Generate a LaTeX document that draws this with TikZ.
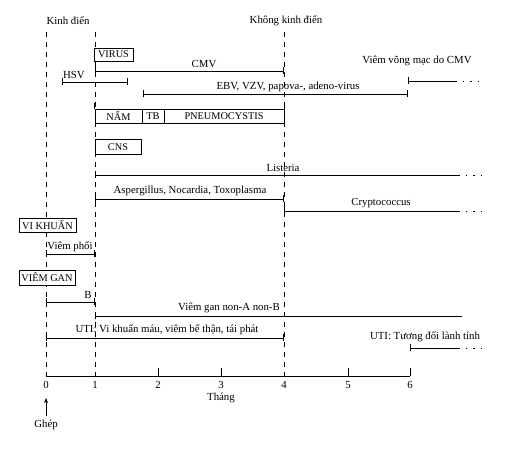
\documentclass[tikz,border=0pt]{standalone}
\usepackage{fontspec}
\setmainfont{Liberation Serif}
\usetikzlibrary{arrows.meta}
\begin{document}
\begin{tikzpicture}[x=1pt,y=-1pt,
  lbl/.style={font=\fontsize{10.8}{12}\selectfont, inner sep=0pt},
  vdash/.style={line width=0.9pt, dash pattern=on 5pt off 5pt},
  rng/.style={line width=0.7pt, {Bar[width=7pt]}-{Bar[width=7pt]}},
  rngL/.style={line width=0.7pt, {Bar[width=7pt]}-},
  cont/.style={line width=0.7pt, dash pattern=on 1.5pt off 6pt},
  catbox/.style={draw, fill=white, line width=0.8pt, font=\fontsize{10.3}{12}\selectfont, inner sep=0pt},
  axis/.style={line width=0.8pt}
]
\useasboundingbox (0,0) rectangle (515,454);
% headers
\node[lbl] (hk) at (68,21) {Kinh điển};
\node[lbl] (hnk) at (286,21) {Không kinh điển};
% vertical dashed lines
\coordinate (v0t) at (46,32);  \coordinate (v0b) at (46,376);
\coordinate (v1t) at (95,32);  \coordinate (v1b) at (95,376);
\coordinate (v4t) at (284,32); \coordinate (v4b) at (284,376);
\draw[vdash] (v0t) -- (v0b);
\draw[vdash] (v1t) -- (v1b);
\draw[vdash] (v4t) -- (v4b);
% VIRUS
\node[catbox, minimum width=39pt, minimum height=13pt] (virus) at (113.5,54.5) {VIRUS};
\coordinate (cmvA) at (95,71); \coordinate (cmvB) at (284,71);
\draw[rng] (cmvA) -- (cmvB);
\node[lbl] (cmv) at (204,64) {CMV};
\coordinate (hsvA) at (62,82); \coordinate (hsvB) at (128,82);
\draw[rng] (hsvA) -- (hsvB);
\node[lbl] (hsv) at (74,75) {HSV};
\coordinate (ebvA) at (143,94); \coordinate (ebvB) at (408,94);
\draw[rng] (ebvA) -- (ebvB);
\node[lbl] (ebv) at (288,87) {EBV, VZV, papova-, adeno-virus};
\node[lbl] (vvm) at (417,61) {Viêm võng mạc do CMV};
\coordinate (vvmA) at (408,81); \coordinate (vvmB) at (455,81); \coordinate (vvmC) at (482,81);
\draw[rngL] (vvmA) -- (vvmB);
\draw[cont] (vvmB) -- (vvmC);
% NAM row
\node[catbox, minimum width=47pt, minimum height=14pt] (nam) at (118.5,116) {NẤM};
\node[catbox, minimum width=22pt, minimum height=14pt] (tb) at (153,116) {TB};
\node[catbox, minimum width=120pt, minimum height=14pt] (pneu) at (224,116) {PNEUMOCYSTIS};
\draw[line width=0.7pt] (nam.north west) -- ++(0,-6);
\draw[line width=0.7pt] (pneu.north east) -- ++(0,-6);
% CNS
\node[catbox, minimum width=46pt, minimum height=15pt] (cns) at (118,147) {CNS};
\coordinate (lisA) at (95,175); \coordinate (lisB) at (458,175); \coordinate (lisC) at (482,175);
\draw[rngL] (lisA) -- (lisB);
\draw[cont] (lisB) -- (lisC);
\node[lbl] (lis) at (283,168) {Listeria};
\coordinate (aspA) at (95,199); \coordinate (aspB) at (284,199);
\draw[rng] (aspA) -- (aspB);
\node[lbl] (asp) at (190,191) {Aspergillus, Nocardia, Toxoplasma};
\coordinate (cryA) at (284,211); \coordinate (cryB) at (458,211); \coordinate (cryC) at (482,211);
\draw[rngL] (cryA) -- (cryB);
\draw[cont] (cryB) -- (cryC);
\node[lbl] (cry) at (381,203) {Cryptococcus};
% VI KHUAN
\node[catbox, minimum width=57pt, minimum height=14pt] (vk) at (47.5,225) {VI KHUẨN};
\coordinate (vpA) at (46,254); \coordinate (vpB) at (95,254);
\draw[rng] (vpA) -- (vpB);
\node[lbl] (vp) at (70,247) {Viêm phổi};
% VIEM GAN
\node[catbox, minimum width=56pt, minimum height=15pt] (vg) at (47,277.5) {VIÊM GAN};
\coordinate (bA) at (46,302); \coordinate (bB) at (95,302);
\draw[rng] (bA) -- (bB);
\node[lbl] (b) at (88,295) {B};
\coordinate (nabA) at (95,316); \coordinate (nabB) at (462,316);
\draw[rngL] (nabA) -- (nabB);
\node[lbl, anchor=east] (nab) at (280,308) {Viêm gan non-A non-B};
\coordinate (utiA) at (46,338); \coordinate (utiB) at (284,338);
\draw[rng] (utiA) -- (utiB);
\node[lbl] (uti) at (167,330) {UTI: Vi khuẩn máu, viêm bể thận, tái phát};
\node[lbl] (uti2) at (425,337) {UTI: Tương đối lành tính};
\coordinate (ut2A) at (410,348); \coordinate (ut2B) at (458,348); \coordinate (ut2C) at (482,348);
\draw[rngL] (ut2A) -- (ut2B);
\draw[cont] (ut2B) -- (ut2C);
% axis
\coordinate (ax0) at (46,376); \coordinate (ax6) at (410,376);
\draw[axis] (ax0) -- (ax6);
\foreach \xx/\lab in {158/2, 221/3, 348/5, 410/6} {
  \draw[axis] (\xx,376) -- (\xx,368);
}
\foreach \xx/\lab in {46/0, 95/1, 158/2, 221/3, 284/4, 348/5, 410/6} {
  \node[lbl] (t\lab) at (\xx,385) {\lab};
}
\node[lbl] (thang) at (221,398) {Tháng};
\node[lbl] (ghep) at (46,425) {Ghép};
\coordinate (arrT) at (46,398);
\draw[line width=0.8pt, -{Stealth[length=5pt,width=4pt]}] (ghep.north) ++(0,-4) -- (arrT);
\end{tikzpicture}
\end{document}
